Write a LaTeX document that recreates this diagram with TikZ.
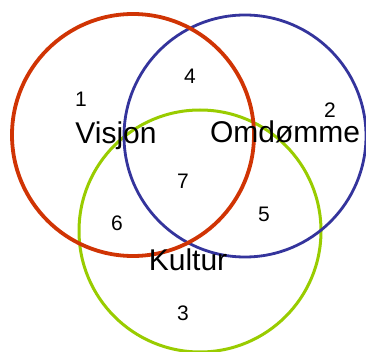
\documentclass[tikz,border=0pt]{standalone}
\usepackage{fontspec}
\setmainfont{Liberation Sans}
\definecolor{visjonred}{RGB}{208,52,4}
\definecolor{omdblue}{RGB}{52,52,156}
\definecolor{kulturgreen}{RGB}{153,204,0}
\begin{document}
\begin{tikzpicture}[x=1pt,y=-1pt,
  ring/.style={line width=#1},
  big/.style={inner sep=0pt,anchor=base,font=\fontsize{30}{36}\selectfont},
  num/.style={inner sep=0pt,font=\fontsize{21}{25}\selectfont}]
  \useasboundingbox (0,0) rectangle (366,352);
  % the three sets
  \draw[ring=3pt,kulturgreen] (200,231) circle[radius=121];
  \draw[ring=2.8pt,omdblue] (245,136) circle[radius=121];
  \draw[ring=3.8pt,visjonred] (133,135) circle[radius=121];
  % set names
  \node[big] (visjon) at (116,144) {Visjon};
  \node[big] (omd) at (285,143) {Omdømme};
  \node[big] (kultur) at (188,270) {Kultur};
  % region numbers
  \node[num] (n1) at (81,99) {1};
  \node[num] (n2) at (330,110) {2};
  \node[num] (n3) at (183,313) {3};
  \node[num] (n4) at (190,76) {4};
  \node[num] (n5) at (264,214) {5};
  \node[num] (n6) at (117,223) {6};
  \node[num] (n7) at (183,181) {7};
\end{tikzpicture}
\end{document}
